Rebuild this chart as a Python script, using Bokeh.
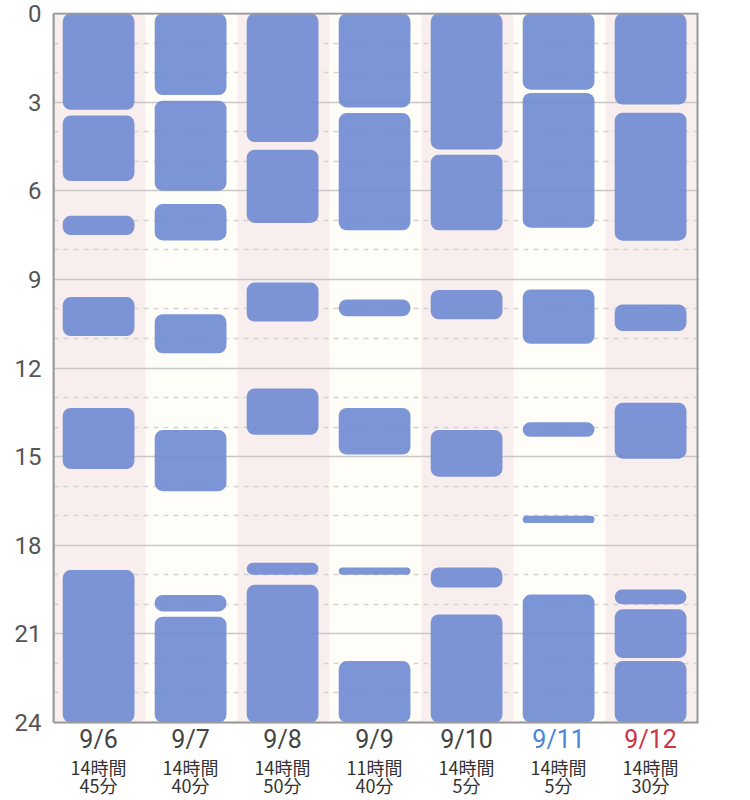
from bokeh.plotting import figure
from bokeh.models import Range1d, FixedTicker, ColumnDataSource
from bokeh.core.properties import value
from bokeh.embed import file_html
from bokeh.resources import INLINE

# ---- data ----
dates = ["9/6", "9/7", "9/8", "9/9", "9/10", "9/11", "9/12"]
date_colors = ["#444444", "#444444", "#444444", "#444444", "#444444", "#4a86d6", "#cc3344"]
dur_hours = ["14時間", "14時間", "14時間", "11時間", "14時間", "14時間", "14時間"]
dur_mins = ["45分", "40分", "50分", "40分", "5分", "5分", "30分"]

# sleep segments (hours of day) per date
sleep_start = [
    [0.0, 3.45, 6.85, 9.6, 13.35, 18.84],
    [0.0, 2.95, 6.45, 10.18, 14.1, 19.68, 20.42],
    [0.0, 4.61, 9.11, 12.69, 18.59, 19.34],
    [0.0, 3.37, 9.68, 13.35, 18.75, 21.92],
    [0.0, 4.78, 9.36, 14.1, 18.75, 20.34],
    [0.0, 2.69, 9.34, 13.84, 17.0, 19.67],
    [0.0, 3.36, 9.85, 13.18, 19.5, 20.17, 21.92],
]
sleep_end = [
    [3.26, 5.67, 7.5, 10.92, 15.42, 24.0],
    [2.76, 6.0, 7.68, 11.5, 16.17, 20.24, 24.0],
    [4.35, 7.09, 10.43, 14.26, 19.0, 24.0],
    [3.18, 7.34, 10.25, 14.93, 19.0, 24.0],
    [4.6, 7.34, 10.35, 15.68, 19.43, 24.0],
    [2.58, 7.25, 11.18, 14.33, 17.25, 24.0],
    [3.08, 7.69, 10.75, 15.07, 20.0, 21.82, 24.0],
]
y_ticks = [0, 3, 6, 9, 12, 15, 18, 21, 24]
y_minor = [h for h in range(25) if h % 3 != 0]

n = len(dates)

# layout geometry (pixels)
TOP = 12
PX_H = (722 - (TOP + 1)) / 24.0   # pixels per hour
COL_W = 644 / n                   # pixels per column
LEFT = 53
FRAME_W = 646
H = 798
W = LEFT + FRAME_W + 6

x_end = FRAME_W / COL_W
y_top = -1.0 / PX_H
y_bot = y_top + (H - TOP) / PX_H

p = figure(width=W, height=H, output_backend="svg", toolbar_location=None,
           x_range=Range1d(0, x_end), y_range=Range1d(y_bot, y_top), x_axis_location=None,
           min_border_left=LEFT, min_border_right=W - LEFT - FRAME_W,
           min_border_top=TOP, min_border_bottom=0)

p.background_fill_color = "white"
p.border_fill_color = "white"
p.outline_line_color = None

# column background bands
band_src = ColumnDataSource(dict(
    left=[i for i in range(n)], right=[i + 1 for i in range(n)],
    top=[0] * n, bottom=[24] * n,
    color=["#f8eeee" if i % 2 == 0 else "#fffdf7" for i in range(n)]))
p.quad(left="left", right="right", top="top", bottom="bottom", color="color",
       source=band_src, line_color=None, level="image")

# sleep bars
lefts, rights, tops, bottoms = [], [], [], []
for i in range(n):
    for s, e in zip(sleep_start[i], sleep_end[i]):
        lefts.append(i + 0.1)
        rights.append(i + 0.88)
        tops.append(s)
        bottoms.append(e)
p.quad(left=lefts, right=rights, top=tops, bottom=bottoms,
       fill_color="#718cd4", fill_alpha=0.92, line_color=None, border_radius=8)

# frame border (top, right, bottom)
p.quad(left=[0], right=[n], top=[0], bottom=[24], fill_color=None,
       line_color="#9a9a9a", line_width=2)

# axes / grid
p.xgrid.visible = False
yax = p.yaxis[0]
yax.bounds = (0, 24)
yax.ticker = FixedTicker(ticks=y_ticks, minor_ticks=y_minor)
yax.axis_line_color = "#9a9a9a"
yax.axis_line_width = 2
yax.major_tick_line_color = None
yax.minor_tick_line_color = None
yax.major_label_text_font = "Roboto"
yax.major_label_text_font_size = "24px"
yax.major_label_text_color = "#555555"
yax.major_label_standoff = 6

p.ygrid.ticker = FixedTicker(ticks=y_ticks, minor_ticks=y_minor)
p.ygrid.grid_line_color = "#c8c8c8"
p.ygrid.grid_line_width = 1.5
p.ygrid.minor_grid_line_color = "#d4d4d4"
p.ygrid.minor_grid_line_width = 1.3
p.ygrid.minor_grid_line_dash = "5 5"

# date / duration labels under each column
xs = [i + 0.49 for i in range(n)]
lab_src = ColumnDataSource(dict(x=xs, date=dates, dcol=date_colors, hrs=dur_hours, mins=dur_mins))
p.text(x="x", y=24 + 17 / PX_H, text="date", text_color="dcol", source=lab_src,
       text_align="center", text_baseline="middle",
       text_font=value("Roboto"), text_font_size="25px")
p.text(x="x", y=24 + 44 / PX_H, text="hrs", source=lab_src, text_color="#333333",
       text_align="center", text_baseline="middle",
       text_font=value("Noto Sans CJK JP"), text_font_size="18px")
p.text(x="x", y=24 + 62 / PX_H, text="mins", source=lab_src, text_color="#333333",
       text_align="center", text_baseline="middle",
       text_font=value("Noto Sans CJK JP"), text_font_size="18px")

open("out.html", "w").write(file_html(p, INLINE))
